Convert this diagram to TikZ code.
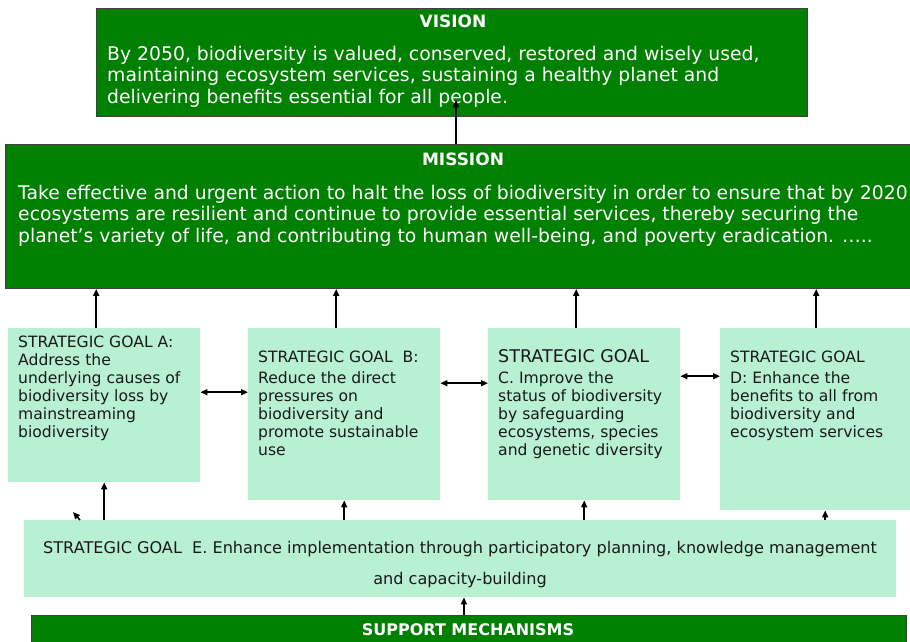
\documentclass[tikz,border=0pt]{standalone}
\usepackage{fontspec}
\setmainfont{DejaVu Sans}
\usetikzlibrary{arrows.meta}
\definecolor{deepgreen}{RGB}{0,128,0}
\definecolor{mintgoal}{RGB}{184,240,212}
\definecolor{goalink}{RGB}{25,25,25}
\tikzset{
  greenbox/.style={rectangle,draw=black!75,line width=0.9pt,fill=deepgreen,anchor=north west,inner sep=0pt},
  goalbox/.style={rectangle,fill=mintgoal,anchor=north west,inner sep=0pt},
  headtext/.style={text=white,font=\bfseries\fontsize{17}{20}\selectfont,inner sep=0pt},
  bodytext/.style={text=white,align=left,font=\fontsize{18.8}{21.5}\selectfont,anchor=north west,inner sep=0pt},
  goaltext/.style={text=goalink,align=left,font=\fontsize{15.6}{18}\selectfont,anchor=north west,inner sep=0pt},
  edge/.style={-{Triangle[length=7pt,width=6pt]},line width=1.6pt},
  dedge/.style={{Triangle[length=7pt,width=6pt]}-{Triangle[length=7pt,width=6pt]},line width=1.6pt}
}

\begin{document}
\begin{tikzpicture}[x=1pt,y=-1pt]
  \useasboundingbox (0,0) rectangle (910,642);
  \clip (0,0) rectangle (910,642);

  % vision and mission
  \node[greenbox,minimum width=711pt,minimum height=108pt] (vision) at (96,8) {};
  \node[headtext] (visionhead) at (453,21) {VISION};
  \node[bodytext] (visionbody) at (107,46) {By 2050, biodiversity is valued, conserved, restored and wisely used,\\
    maintaining ecosystem services, sustaining a healthy planet and\\
    delivering benefits essential for all people.};
  \node[greenbox,minimum width=910pt,minimum height=144pt] (mission) at (5,144) {};
  \node[headtext] (missionhead) at (463,159) {MISSION};
  \node[bodytext] (missionbody) at (18,185) {Take effective and urgent action to halt the loss of biodiversity in order to ensure that by 2020\\
    ecosystems are resilient and continue to provide essential services, thereby securing the\\
    planet’s variety of life, and contributing to human well-being, and poverty eradication. …..};

  % the four goals
  \node[goalbox,minimum width=192pt,minimum height=154pt] (goalA) at (8,328) {};
  \node[goalbox,minimum width=192pt,minimum height=172pt] (goalB) at (248,328) {};
  \node[goalbox,minimum width=192pt,minimum height=172pt] (goalC) at (488,328) {};
  \node[goalbox,minimum width=192pt,minimum height=182pt] (goalD) at (720,328) {};
  \node[goaltext] (textA) at (18,336) {STRATEGIC GOAL A:\\Address the\\underlying causes of\\biodiversity loss by\\mainstreaming\\biodiversity};
  \node[goaltext] (textB) at (258,351) {STRATEGIC GOAL\ \ B:\\[3pt]Reduce the direct\\pressures on\\biodiversity and\\promote sustainable\\use};
  \node[goaltext] (textC) at (498,349) {{\fontsize{17.5}{18}\selectfont STRATEGIC GOAL}\\[3pt]C. Improve the\\status of biodiversity\\by safeguarding\\ecosystems, species\\and genetic diversity};
  \node[goaltext] (textD) at (730,351) {STRATEGIC GOAL\\[3pt]D: Enhance the\\benefits to all from\\biodiversity and\\ecosystem services};

  % goal E and support
  \node[goalbox,minimum width=872pt,minimum height=77pt] (goalE) at (24,520) {};
  \node[text=goalink,align=center,font=\fontsize{16.1}{31}\selectfont,inner sep=0pt] (textE) at (460,564.5)
    {STRATEGIC GOAL\ \ E. Enhance implementation through participatory planning, knowledge management\\and capacity-building};
  \node[greenbox,minimum width=875pt,minimum height=40pt] (support) at (31,615) {};
  \node[headtext,font=\bfseries\fontsize{16}{19}\selectfont] (supporthead) at (468,630) {SUPPORT MECHANISMS};

  % arrows
  \coordinate (vtip) at (456,100);
  \coordinate (stray) at (73,512);
  \draw[edge] (mission.north -| vtip) -- (vtip);
  \draw[edge] ([xshift=-8pt]goalA.north) -- ([xshift=-8pt]goalA.north |- mission.south);
  \draw[edge] ([xshift=-8pt]goalB.north) -- ([xshift=-8pt]goalB.north |- mission.south);
  \draw[edge] ([xshift=-8pt]goalC.north) -- ([xshift=-8pt]goalC.north |- mission.south);
  \draw[edge] (goalD.north) -- (goalD.north |- mission.south);
  \draw[dedge] ([yshift=13pt]goalA.east) -- ([yshift=13pt]goalA.east -| goalB.west);
  \draw[dedge] ([yshift=31pt]goalB.east) -- ([yshift=31pt]goalB.east -| goalC.west);
  \draw[dedge] ([yshift=38pt]goalC.east) -- ([yshift=38pt]goalC.east -| goalD.west);
  \draw[edge] (goalA.south |- goalE.north) -- (goalA.south);
  \draw[edge] (goalB.south |- goalE.north) -- (goalB.south);
  \draw[edge] (goalC.south |- goalE.north) -- (goalC.south);
  \draw[edge] ([xshift=9pt]goalD.south |- goalE.north) -- ([xshift=9pt]goalD.south);
  \draw[edge] ([xshift=56pt]goalE.north west) -- (stray);
  \draw[edge] ([xshift=-5pt]support.north) -- ([xshift=-5pt]support.north |- goalE.south);
\end{tikzpicture}
\end{document}
